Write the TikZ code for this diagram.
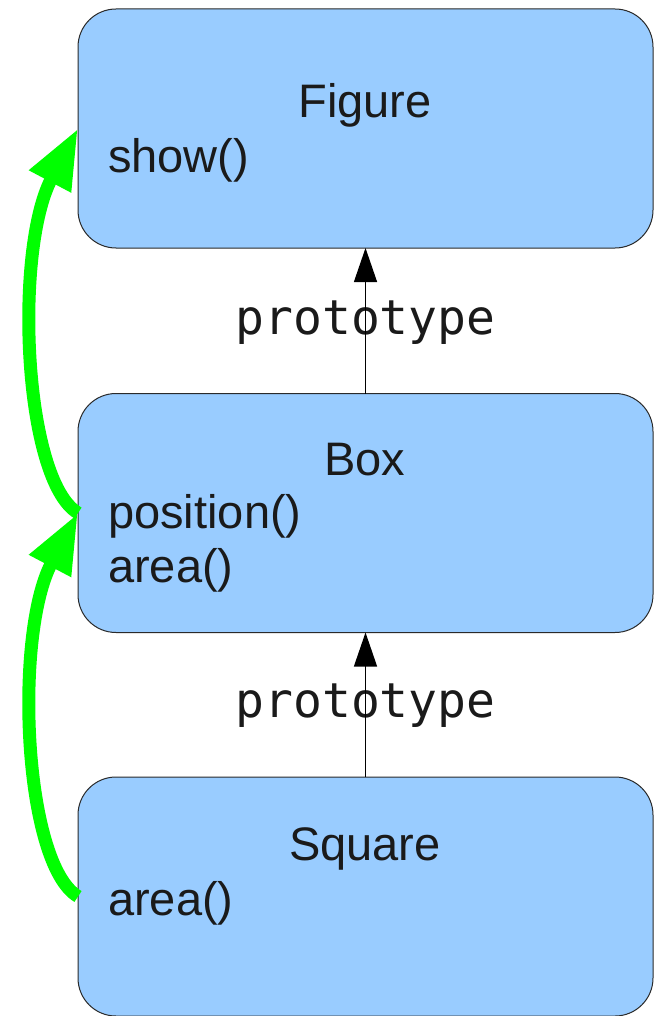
\documentclass[tikz,border=0pt]{standalone}
\usepackage{fontspec}
\setmainfont{Liberation Sans}
\newfontfamily\protofont{DejaVu Sans Mono}
\usetikzlibrary{arrows.meta}
\definecolor{boxfill}{HTML}{99CCFF}
\definecolor{boxline}{HTML}{2A2A2A}
\definecolor{inkcol}{HTML}{1A1A1A}
\definecolor{linkgreen}{HTML}{00FF00}
\tikzset{
  objbox/.style={draw=boxline, line width=1pt, fill=boxfill, rounded corners=38pt,
    minimum width=575pt, minimum height=239pt, inner sep=0pt, outer sep=0pt},
  title/.style={anchor=base, inner sep=0pt, text=inkcol,
    font=\fontsize{47}{54}\selectfont},
  member/.style={anchor=base west, inner sep=0pt, text=inkcol,
    font=\fontsize{47}{54}\selectfont},
  protolabel/.style={anchor=base, inner sep=0pt, text=inkcol,
    font=\protofont\fontsize{48}{54}\selectfont},
  protolink/.style={line width=1.3pt, -{Triangle[length=34pt,width=23pt]}},
  chain/.style={draw=linkgreen, line width=13pt,
    -{Triangle[length=60pt,width=44pt]}},
}
\begin{document}
\begin{tikzpicture}[x=1pt,y=-1pt]
  \useasboundingbox (0,0) rectangle (658,1016);

  % objects
  \node[objbox] (fig) at (365.5,128.5) {};
  \node[objbox] (box) at (365.5,513) {};
  \node[objbox] (sq)  at (365.5,896.5) {};

  % object texts
  \node[title]  (figname) at (365,118) {Figure};
  \node[member] (figshow) at (108,173) {show()};
  \node[title]  (boxname) at (365,475) {Box};
  \node[member] (boxpos)  at (108,528) {position()};
  \node[member] (boxarea) at (108,582) {area()};
  \node[title]  (sqname)  at (365,860) {Square};
  \node[member] (sqarea)  at (108,915) {area()};

  % prototype links
  \node[protolabel] (p1) at (365.5,334) {prototype};
  \node[protolabel] (p2) at (365.5,717) {prototype};
  \draw[protolink] (box.north) -- (fig.south);
  \draw[protolink] (sq.north) -- (box.south);

  % lookup chain
  \draw[chain] (box.west) .. controls +(-55,-33) and +(-64,121) .. (fig.west);
  \draw[chain] (sq.west) .. controls +(-55,-33) and +(-64,121) .. (box.west);
\end{tikzpicture}
\end{document}
